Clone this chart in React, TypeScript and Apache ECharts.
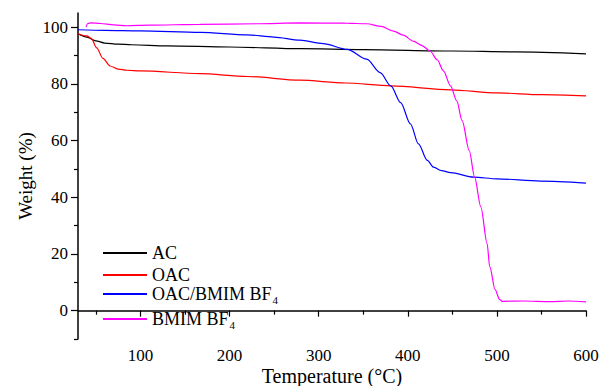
import React, { useEffect, useRef } from "react";
import * as echarts from "echarts";

const FONT = "'Liberation Serif', 'Times New Roman', serif";

const seriesNames = ["AC", "OAC", "OAC/BMIM BF4", "BMIM BF4"];
const seriesColors = ["#000000", "#ff0000", "#0000ff", "#ff00ff"];

const acData: number[][] = [
  [30, 97.7], [40, 96.5], [50, 95.2], [60, 94.4], [75, 94.0], [90, 93.8], [130, 93.4],
  [200, 93.0], [280, 92.4], [350, 92.1], [450, 91.6], [520, 91.3], [600, 90.6],
];

const oacData: number[][] = [
  [30, 97.7], [40, 96.9], [45, 96.0], [51, 92.7], [58, 89.0], [66, 86.3], [75, 85.2],
  [85, 84.8], [100, 84.6], [167, 83.6], [220, 82.6], [279, 81.3], [330, 80.3],
  [381, 79.3], [448, 77.9], [500, 76.8], [550, 76.2], [600, 75.8],
];

const oacBmimData: number[][] = [
  [30, 99.1], [60, 98.9], [100, 98.7], [167, 98.2], [220, 97.3], [250, 96.5], [279, 95.4],
  [305, 94.2], [332, 92.2], [354, 88.7], [369, 84.0], [381, 79.3], [392, 73.4],
  [403, 65.9], [412, 58.8], [422, 53.0], [429, 50.6], [438, 49.4], [448, 48.7],
  [474, 47.1], [500, 46.5], [549, 45.7], [600, 45.0],
];

const bmimData: number[][] = [
  [39, 100.0], [41, 101.3], [45, 101.5], [55, 101.3], [70, 100.8], [85, 100.5],
  [110, 100.7], [167, 101.0], [230, 101.2], [279, 101.5], [330, 101.4], [354, 101.2],
  [370, 100.3], [384, 98.6], [395, 97.2], [406, 95.1], [416, 93.5], [425, 91.6],
  [433, 88.5], [440, 84.6], [448, 79.3], [455, 74.0], [461, 67.0], [469, 56.5],
  [475, 47.1], [482, 36.6], [489, 23.7], [492, 15.5], [498, 7.4], [503, 4.0],
  [506, 3.3], [530, 3.4], [560, 3.2], [580, 3.4], [600, 3.1],
];

const xMajorTicks = [100, 200, 300, 400, 500, 600];
const xMinorTicks = [50, 150, 250, 350, 450, 550];
const yMajorTicks = [0, 20, 40, 60, 80, 100];
const yMinorTicks = [-10, 10, 30, 50, 70, 90];

const legendTops = [244, 266, 285, 310];

export default function App() {
  const ref = useRef<HTMLDivElement>(null);

  useEffect(() => {
    if (!ref.current) return;
    const chart = echarts.init(ref.current, null, { renderer: "svg" });
    const allData = [acData, oacData, oacBmimData, bmimData];
    const axisLine = { lineStyle: { color: "#000", width: 1.5 } };
    const labelStyle = { fontFamily: FONT, fontSize: 17, lineHeight: 17, color: "#000" };

    chart.setOption({
      animation: false,
      backgroundColor: "#fff",
      grid: { left: 78, right: 17, top: 13, bottom: 47, containLabel: false, outerBoundsMode: "none" },
      xAxis: [
        {
          type: "value", min: 30, max: 600, position: "bottom",
          axisLine: { show: true, ...axisLine },
          axisTick: { show: true, customValues: xMajorTicks, length: 6, lineStyle: { color: "#000", width: 1.2 } },
          axisLabel: { customValues: xMajorTicks, margin: 8, ...labelStyle },
          splitLine: { show: false },
          name: "Temperature (°C)", nameLocation: "middle", nameGap: 28, nameMoveOverlap: false,
          nameTextStyle: { fontFamily: FONT, fontSize: 20, lineHeight: 18, color: "#000" },
        },
        {
          type: "value", min: 30, max: 600, position: "bottom",
          axisLine: { show: false },
          axisTick: { show: true, customValues: xMinorTicks, length: 4, lineStyle: { color: "#000", width: 1.2 } },
          axisLabel: { show: false },
          splitLine: { show: false },
        },
      ],
      yAxis: [
        {
          type: "value", min: -10, max: 105, position: "left",
          axisLine: { show: true, ...axisLine },
          axisTick: { show: true, customValues: yMajorTicks, length: 7, lineStyle: { color: "#000", width: 1.2 } },
          axisLabel: { customValues: yMajorTicks, margin: 10, ...labelStyle },
          splitLine: { show: false },
          name: "Weight (%)", nameLocation: "middle", nameGap: 43, nameMoveOverlap: false,
          nameTextStyle: { fontFamily: FONT, fontSize: 19, color: "#000" },
        },
        {
          type: "value", min: -10, max: 105, position: "left",
          axisLine: { show: false },
          axisTick: { show: true, customValues: yMinorTicks, length: 4, lineStyle: { color: "#000", width: 1.2 } },
          axisLabel: { show: false },
          splitLine: { show: false },
        },
      ],
      legend: seriesNames.map((n, i) => ({
        data: [n],
        left: 102,
        top: legendTops[i],
        padding: 0,
        orient: "vertical",
        itemWidth: 44,
        itemHeight: 12,
        itemGap: 0,
        itemStyle: { opacity: 0 },
        formatter: (name: string) => name.replace("BF4", "BF{sub|4}"),
        textStyle: {
          fontFamily: FONT, fontSize: 18, color: "#000",
          rich: { sub: { fontFamily: FONT, fontSize: 11, color: "#000", padding: [12, 0, 0, 1] } },
        },
      })),
      series: seriesNames.map((n, i) => ({
        name: n,
        type: "line",
        xAxisIndex: 0,
        yAxisIndex: 0,
        data: allData[i],
        symbol: "none",
        showSymbol: false,
        smooth: 0.3,
        smoothMonotone: "x",
        lineStyle: { color: seriesColors[i], width: 1.2 },
        itemStyle: { color: seriesColors[i] },
      })),
    });

    return () => chart.dispose();
  }, []);

  return (
    <div
      ref={ref}
      style={{ position: "fixed", left: 0, top: 0, width: 603, height: 386, background: "#fff" }}
    />
  );
}
